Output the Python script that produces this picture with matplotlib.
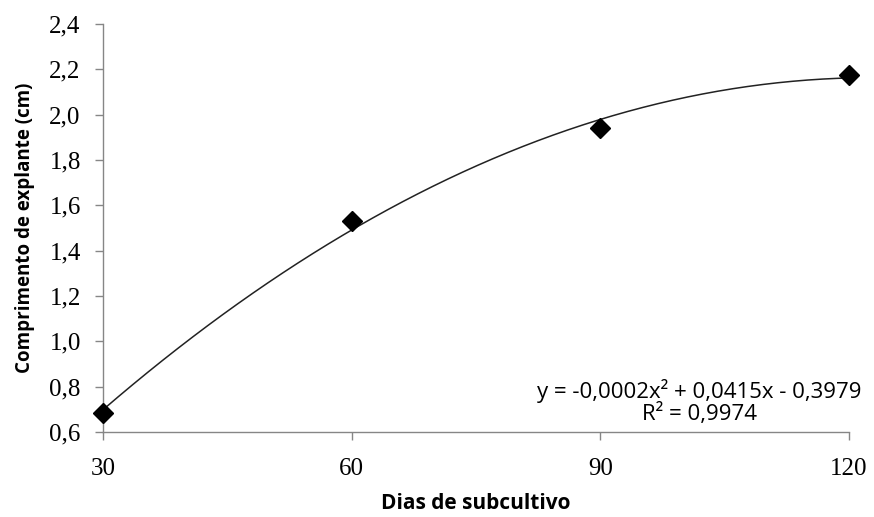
import matplotlib.pyplot as plt
import numpy as np
from matplotlib.ticker import FuncFormatter

# days of subculture and explant length (cm)
dias = [30, 60, 90, 120]
comprimento = [0.685, 1.53, 1.94, 2.175]
x_ticks = [30, 60, 90, 120]
y_ticks = [0.6, 0.8, 1.0, 1.2, 1.4, 1.6, 1.8, 2.0, 2.2, 2.4]
equacao = "y = -0,0002x² + 0,0415x - 0,3979\nR² = 0,9974"

fig = plt.figure(figsize=(8.74, 5.17), dpi=100)
ax = fig.add_axes([0.1178, 0.1644, 0.8536, 0.7892])

# quadratic trendline fitted to the points
coef = np.polyfit(dias, comprimento, 2)
xs = np.linspace(min(dias), max(dias), 200)
ax.plot(xs, np.polyval(coef, xs), color='#222222', lw=1.1, zorder=2)
ax.plot(dias, comprimento, 'D', color='black', ms=10, zorder=3, clip_on=False)

ax.set_xlim(30, 120)
ax.set_ylim(0.6, 2.4)
ax.set_xticks(x_ticks)
ax.set_yticks(y_ticks)
ax.yaxis.set_major_formatter(FuncFormatter(lambda v, p: f"{v:.1f}".replace('.', ',')))

for s in ['top', 'right']:
    ax.spines[s].set_visible(False)
for s in ['left', 'bottom']:
    ax.spines[s].set_color('#868686')
    ax.spines[s].set_linewidth(1.0)
ax.tick_params(direction='out', length=6, color='#868686', width=1.0,
               labelsize=18, pad=10)
for lab in ax.get_xticklabels() + ax.get_yticklabels():
    lab.set_family('Liberation Serif')
ax.tick_params(axis='x', pad=13)

ax.set_xlabel("Dias de subcultivo", fontsize=15, fontweight='bold',
              family='Open Sans', labelpad=9)
ax.set_ylabel("Comprimento de explante (cm)", fontsize=13.5, fontweight='bold',
              family='Open Sans', labelpad=10)

fig.text(0.800, 0.177, equacao, ha='center', va='bottom', fontsize=16,
         family='Open Sans', multialignment='center', linespacing=1.05)

fig.savefig("out.png", dpi=100)
